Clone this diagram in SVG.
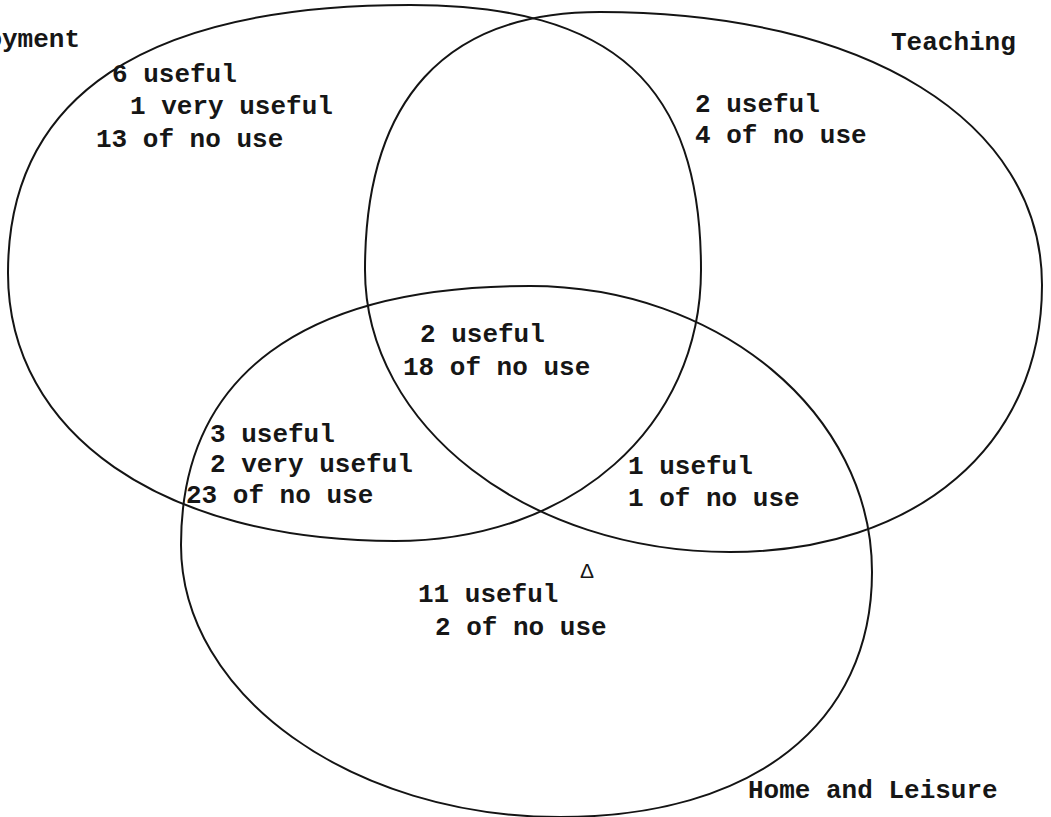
<svg xmlns="http://www.w3.org/2000/svg" width="1051" height="817" viewBox="0 0 1051 817">
<style>
.set{fill:none;stroke:#141414;stroke-width:2;stroke-linejoin:round}
.t{font-family:"Liberation Mono","Courier New",monospace;font-size:26px;font-weight:bold;fill:#161616}
.m{font-family:"Liberation Sans",Arial,sans-serif;font-size:21px;fill:#161616}
</style>
<rect width="1051" height="817" fill="#ffffff"/>
<g id="set-employment">
<path class="set" d="M8,273 C8,96 145,5 410,5 C614,5 701,85 701,270 C701,427 572,541 395,541 C163,541 8,434 8,273 Z"/>
<text class="t" x="80" y="47" text-anchor="end">Employment</text>
</g>
<g id="set-teaching">
<path class="set" d="M365,270 C365,100 445,12 600,12 C865,12 1042,121 1042,285 C1042,445 917,552 730,552 C528,552 365,426 365,270 Z"/>
<text class="t" x="891" y="50">Teaching</text>
</g>
<g id="set-home-leisure">
<path class="set" d="M181,545 C181,375 303,286 530,286 C718,286 872,413 872,572 C872,724 753,817 560,817 C352,817 181,695 181,545 Z"/>
<text class="t" x="748" y="798">Home and Leisure</text>
</g>
<g id="connectors"></g>
<g id="region-employment-only">
<text class="t" x="112" y="82">6 useful</text>
<text class="t" x="130" y="114">1 very useful</text>
<text class="t" x="96" y="147">13 of no use</text>
</g>
<g id="region-teaching-only">
<text class="t" x="695" y="112">2 useful</text>
<text class="t" x="695" y="143">4 of no use</text>
</g>
<g id="region-all-three">
<text class="t" x="420" y="342">2 useful</text>
<text class="t" x="403" y="375">18 of no use</text>
</g>
<g id="region-employment-home">
<text class="t" x="210" y="442">3 useful</text>
<text class="t" x="210" y="472">2 very useful</text>
<text class="t" x="186" y="503">23 of no use</text>
</g>
<g id="region-teaching-home">
<text class="t" x="628" y="474">1 useful</text>
<text class="t" x="628" y="506">1 of no use</text>
</g>
<g id="region-home-only">
<text class="m" x="580" y="578">Δ</text>
<text class="t" x="418" y="602">11 useful</text>
<text class="t" x="435" y="635">2 of no use</text>
</g>
</svg>
